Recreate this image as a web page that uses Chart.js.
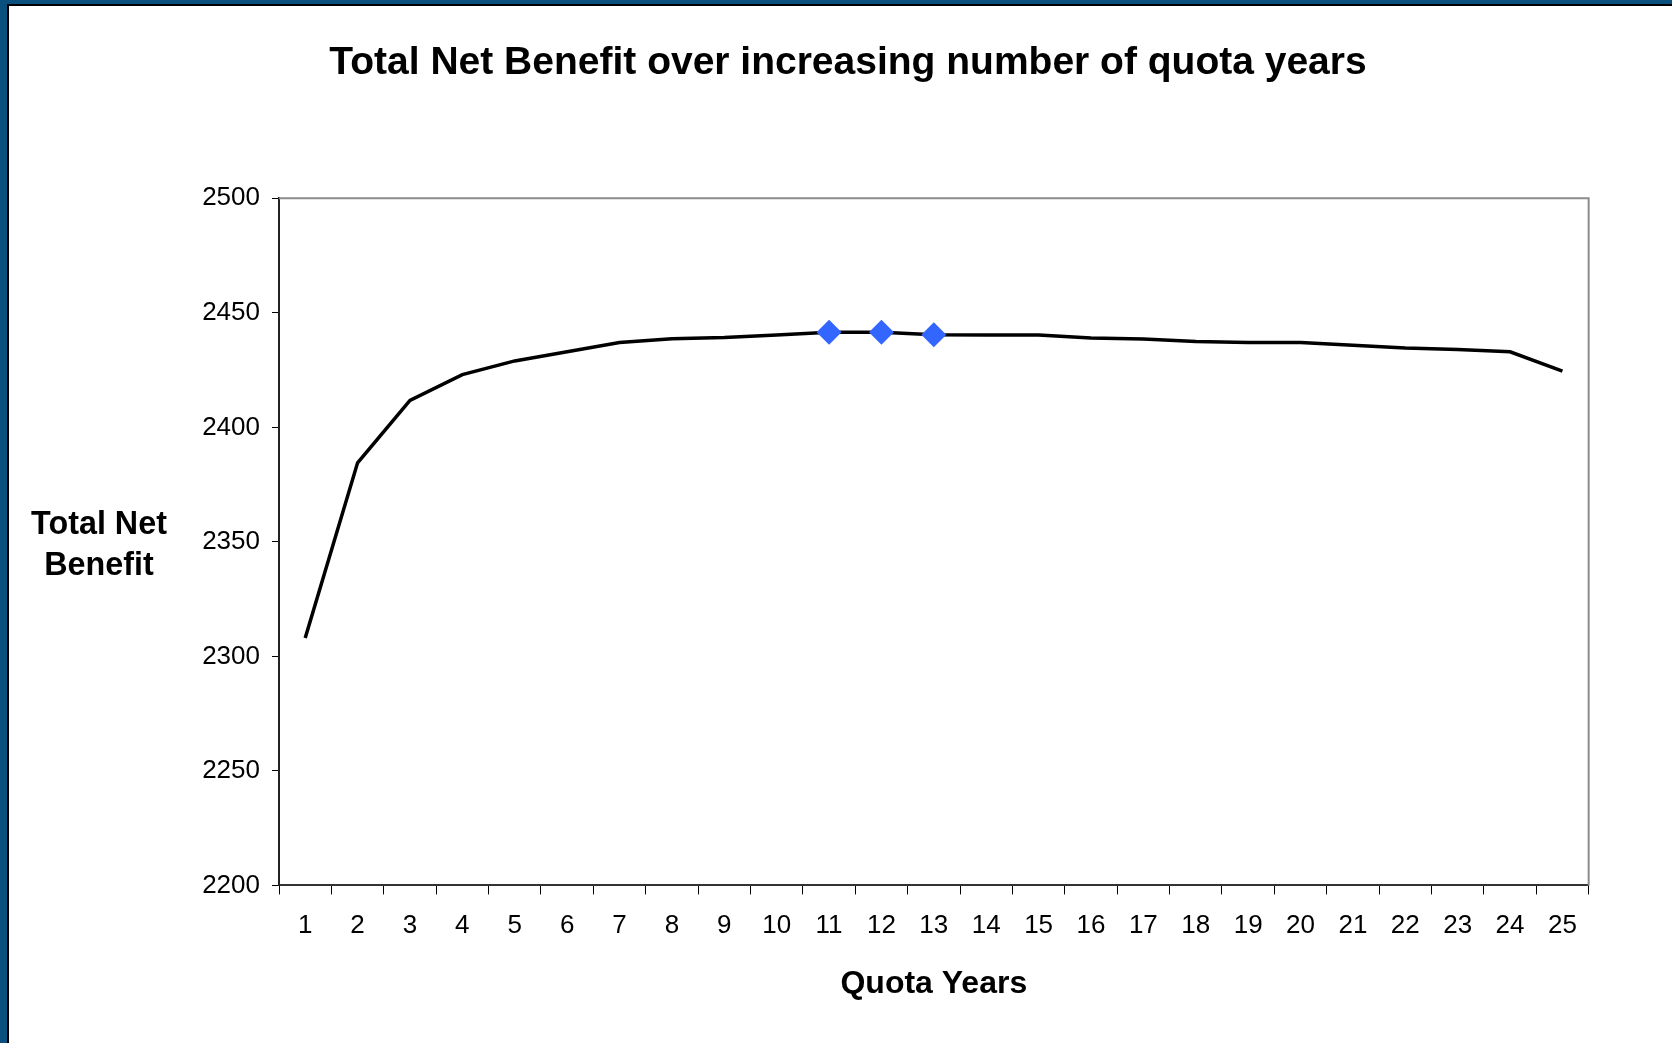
<!DOCTYPE html>
<html>
<head>
<meta charset="utf-8">
<script src="https://cdn.jsdelivr.net/npm/chart.js@4/dist/chart.umd.min.js"></script>
<style>
    html, body { margin: 0; padding: 0; background: #fff; }
    .frame {
        position: absolute; left: 0; top: 0; width: 1672px; height: 1043px;
        border-left: 7px solid #0b4f7e; border-top: 4px solid #0b4f7e;
        box-sizing: border-box; overflow: hidden;
    }
    .inner {
        position: absolute; left: 0; top: 0; right: 0; bottom: 0;
        border-left: 2px solid #000; border-top: 2px solid #000; background: #fff;
    }
    #wrap { position: absolute; left: 0; top: 0; width: 1584px; height: 1037px; }
</style>
</head>
<body>
<div class="frame"><div class="inner"><div id="wrap"><canvas id="chart"></canvas></div></div></div>
<script>
const years = ['1','2','3','4','5','6','7','8','9','10','11','12','13','14','15','16','17','18','19','20','21','22','23','24','25'];
const netBenefit = [2308, 2384.5, 2411.8, 2423, 2429, 2433, 2437, 2438.7, 2439.2, 2440.3, 2441.5, 2441.5, 2440.4,
    2440.3, 2440.3, 2439, 2438.6, 2437.5, 2437, 2437, 2435.8, 2434.6, 2434, 2433, 2424.5];
const highlightYears = ['11', '12', '13'];
const yTicks = [2200, 2250, 2300, 2350, 2400, 2450, 2500];

const FONT = '"Liberation Sans", Arial, sans-serif';

// gray frame on top and right of the plot, horizontal y title on the left
const plotFrame = {
    id: 'plotFrame',
    afterDraw(chart) {
        const { ctx, chartArea } = chart;
        ctx.save();
        ctx.strokeStyle = '#8c8c8c';
        ctx.lineWidth = 2;
        ctx.beginPath();
        ctx.moveTo(chartArea.left, chartArea.top);
        ctx.lineTo(chartArea.right, chartArea.top);
        ctx.lineTo(chartArea.right, chartArea.bottom);
        ctx.stroke();

        ctx.fillStyle = '#000';
        ctx.font = 'bold 32.3px ' + FONT;
        ctx.textAlign = 'center';
        ctx.textBaseline = 'middle';
        const mid = (chartArea.top + chartArea.bottom) / 2;
        ctx.fillText('Total Net', chartArea.left - 180, mid - 17);
        ctx.fillText('Benefit', chartArea.left - 180, mid + 24.5);
        ctx.restore();
    }
};

new Chart(document.getElementById('chart'), {
    type: 'line',
    data: {
        labels: years,
        datasets: [{
            label: 'Total Net Benefit',
            data: netBenefit,
            borderColor: '#000',
            borderWidth: 3.5,
            tension: 0,
            pointStyle: 'rectRot',
            pointRadius: years.map(y => highlightYears.includes(y) ? 12.5 : 0),
            pointBackgroundColor: '#3366ff',
            pointBorderWidth: 0,
            pointHoverRadius: 0
        }]
    },
    options: {
        responsive: true,
        maintainAspectRatio: false,
        animation: false,
        layout: { padding: { left: 98, right: 4, top: 0, bottom: 40 } },
        plugins: {
            legend: { display: false },
            tooltip: { enabled: false },
            title: {
                display: true,
                text: 'Total Net Benefit over increasing number of quota years',
                color: '#000',
                font: { family: FONT, size: 39, weight: 'bold' },
                padding: { top: 33.5, bottom: 112 }
            }
        },
        scales: {
            x: {
                offset: true,
                grid: { display: true, drawOnChartArea: false, offset: true, tickLength: 9, color: '#000', lineWidth: 1 },
                border: { color: '#333', width: 2 },
                ticks: { color: '#000', padding: 16, maxRotation: 0, autoSkip: false, font: { family: FONT, size: 26 } },
                title: {
                    display: true,
                    text: 'Quota Years',
                    color: '#000',
                    font: { family: FONT, size: 32, weight: 'bold' },
                    padding: { top: 7, bottom: 0 }
                }
            },
            y: {
                min: 2200,
                max: 2500,
                afterFit: s => { s.width = 172; },
                afterBuildTicks: s => { s.ticks = yTicks.map(v => ({ value: v })); },
                grid: { display: true, drawOnChartArea: false, tickLength: 7, color: '#000', lineWidth: 1 },
                border: { color: '#222', width: 2 },
                ticks: { color: '#000', padding: 12, font: { family: FONT, size: 26 }, callback: v => String(v) }
            }
        }
    },
    plugins: [plotFrame]
});
</script>
</body>
</html>
